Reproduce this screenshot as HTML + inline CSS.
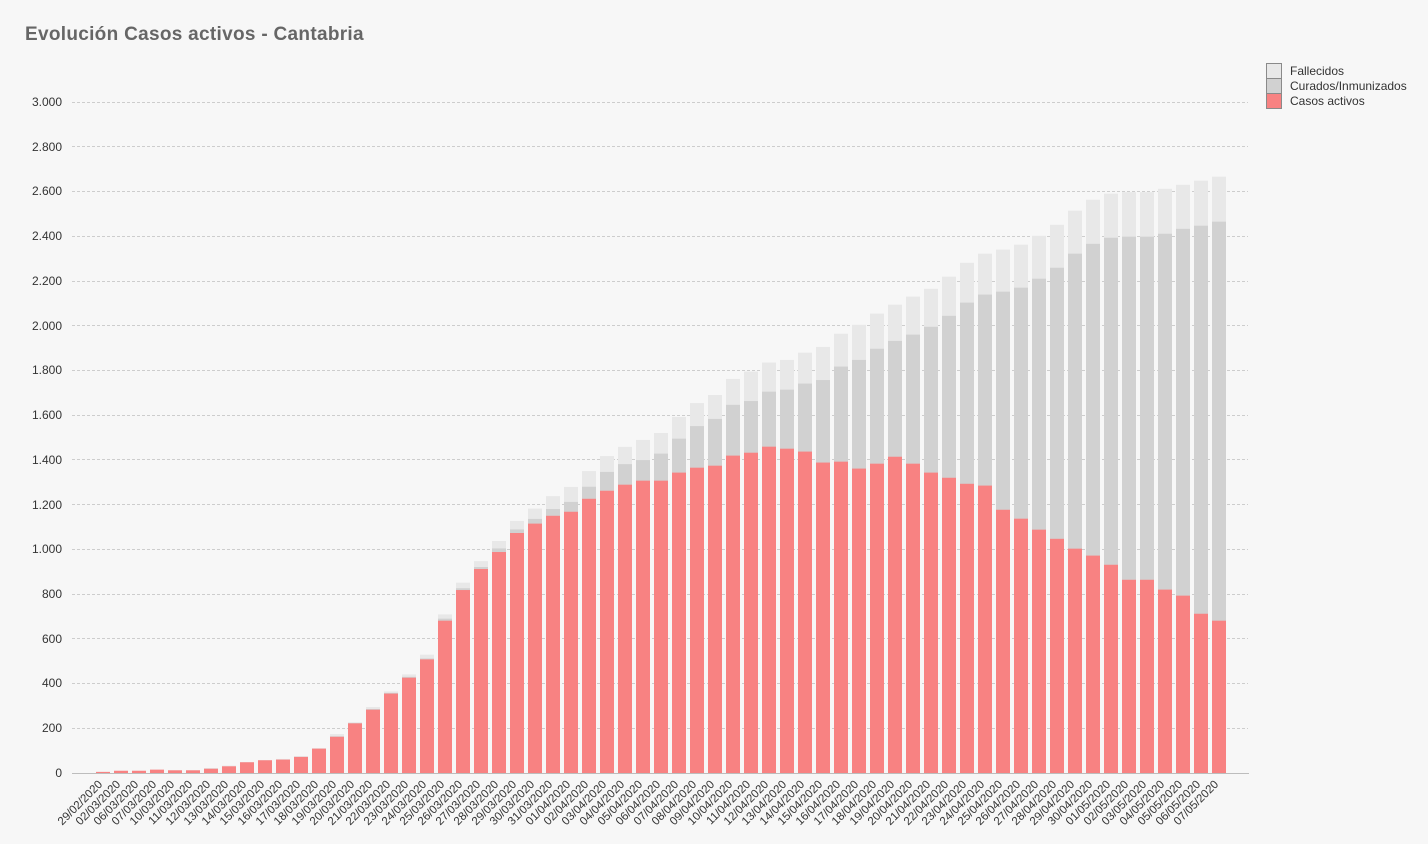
<!DOCTYPE html>
<html><head><meta charset="utf-8">
<style>
html,body{margin:0;padding:0;background:#f7f7f7;}
svg{display:block;}
.a{fill:#f88282;} .c{fill:#d1d1d1;} .f{fill:#e8e8e8;}
.yl{font-family:"Liberation Sans",sans-serif;font-size:12px;fill:#333;text-anchor:end;}
.xl{font-family:"Liberation Sans",sans-serif;font-size:11.5px;fill:#333;text-anchor:end;}
.lg{font-family:"Liberation Sans",sans-serif;font-size:12px;fill:#333;}
</style></head>
<body>
<svg width="1428" height="844" viewBox="0 0 1428 844" xmlns="http://www.w3.org/2000/svg">
<rect width="1428" height="844" fill="#f7f7f7"/>
<text x="25" y="40" font-family="Liberation Sans, sans-serif" font-weight="bold" font-size="19" letter-spacing="0.3" fill="#666">Evolución Casos activos - Cantabria</text>

<g stroke="#cdcdcd" stroke-width="1" stroke-dasharray="3 2">
<line x1="72" x2="1248" y1="728.5" y2="728.5"/>
<line x1="72" x2="1248" y1="683.5" y2="683.5"/>
<line x1="72" x2="1248" y1="638.5" y2="638.5"/>
<line x1="72" x2="1248" y1="594.5" y2="594.5"/>
<line x1="72" x2="1248" y1="549.5" y2="549.5"/>
<line x1="72" x2="1248" y1="504.5" y2="504.5"/>
<line x1="72" x2="1248" y1="459.5" y2="459.5"/>
<line x1="72" x2="1248" y1="415.5" y2="415.5"/>
<line x1="72" x2="1248" y1="370.5" y2="370.5"/>
<line x1="72" x2="1248" y1="325.5" y2="325.5"/>
<line x1="72" x2="1248" y1="281.5" y2="281.5"/>
<line x1="72" x2="1248" y1="236.5" y2="236.5"/>
<line x1="72" x2="1248" y1="191.5" y2="191.5"/>
<line x1="72" x2="1248" y1="146.5" y2="146.5"/>
<line x1="72" x2="1248" y1="102.5" y2="102.5"/>
</g>

<g class="yl">
<text x="62" y="777">0</text>
<text x="62" y="732">200</text>
<text x="62" y="687">400</text>
<text x="62" y="643">600</text>
<text x="62" y="598">800</text>
<text x="62" y="553">1.000</text>
<text x="62" y="509">1.200</text>
<text x="62" y="464">1.400</text>
<text x="62" y="419">1.600</text>
<text x="62" y="374">1.800</text>
<text x="62" y="330">2.000</text>
<text x="62" y="285">2.200</text>
<text x="62" y="240">2.400</text>
<text x="62" y="195">2.600</text>
<text x="62" y="151">2.800</text>
<text x="62" y="106">3.000</text>
</g>

<g transform="translate(0,773) scale(1,-0.2236667)">
<rect class="f" x="96" width="14" height="5"/><rect class="a" x="96" width="14" height="5"/>
<rect class="f" x="114" width="14" height="10"/><rect class="a" x="114" width="14" height="10"/>
<rect class="f" x="132" width="14" height="10"/><rect class="a" x="132" width="14" height="10"/>
<rect class="f" x="150" width="14" height="15"/><rect class="a" x="150" width="14" height="15"/>
<rect class="f" x="168" width="14" height="13"/><rect class="a" x="168" width="14" height="12"/>
<rect class="f" x="186" width="14" height="13"/><rect class="a" x="186" width="14" height="12"/>
<rect class="f" x="204" width="14" height="22"/><rect class="c" x="204" width="14" height="19"/><rect class="a" x="204" width="14" height="19"/>
<rect class="f" x="222" width="14" height="33"/><rect class="a" x="222" width="14" height="30"/>
<rect class="f" x="240" width="14" height="49"/><rect class="a" x="240" width="14" height="48"/>
<rect class="f" x="258" width="14" height="58"/><rect class="a" x="258" width="14" height="57"/>
<rect class="f" x="276" width="14" height="63"/><rect class="a" x="276" width="14" height="60"/>
<rect class="f" x="294" width="14" height="76"/><rect class="a" x="294" width="14" height="72"/>
<rect class="f" x="312" width="14" height="111"/><rect class="a" x="312" width="14" height="109"/>
<rect class="f" x="330" width="14" height="174"/><rect class="c" x="330" width="14" height="164"/><rect class="a" x="330" width="14" height="162"/>
<rect class="f" x="348" width="14" height="227"/><rect class="c" x="348" width="14" height="223"/><rect class="a" x="348" width="14" height="222"/>
<rect class="f" x="366" width="14" height="295"/><rect class="c" x="366" width="14" height="286"/><rect class="a" x="366" width="14" height="283"/>
<rect class="f" x="384" width="14" height="365"/><rect class="c" x="384" width="14" height="358"/><rect class="a" x="384" width="14" height="355"/>
<rect class="f" x="402" width="14" height="441"/><rect class="c" x="402" width="14" height="430"/><rect class="a" x="402" width="14" height="426"/>
<rect class="f" x="420" width="14" height="529"/><rect class="c" x="420" width="14" height="512"/><rect class="a" x="420" width="14" height="508"/>
<rect class="f" x="438" width="14" height="709"/><rect class="c" x="438" width="14" height="690"/><rect class="a" x="438" width="14" height="681"/>
<rect class="f" x="456" width="14" height="851"/><rect class="c" x="456" width="14" height="826"/><rect class="a" x="456" width="14" height="818"/>
<rect class="f" x="474" width="14" height="947"/><rect class="c" x="474" width="14" height="921"/><rect class="a" x="474" width="14" height="912"/>
<rect class="f" x="492" width="14" height="1037"/><rect class="c" x="492" width="14" height="1004"/><rect class="a" x="492" width="14" height="988"/>
<rect class="f" x="510" width="14" height="1127"/><rect class="c" x="510" width="14" height="1089"/><rect class="a" x="510" width="14" height="1073"/>
<rect class="f" x="528" width="14" height="1182"/><rect class="c" x="528" width="14" height="1136"/><rect class="a" x="528" width="14" height="1115"/>
<rect class="f" x="546" width="14" height="1238"/><rect class="c" x="546" width="14" height="1180"/><rect class="a" x="546" width="14" height="1150"/>
<rect class="f" x="564" width="14" height="1279"/><rect class="c" x="564" width="14" height="1212"/><rect class="a" x="564" width="14" height="1168"/>
<rect class="f" x="582" width="14" height="1350"/><rect class="c" x="582" width="14" height="1280"/><rect class="a" x="582" width="14" height="1226"/>
<rect class="f" x="600" width="14" height="1417"/><rect class="c" x="600" width="14" height="1346"/><rect class="a" x="600" width="14" height="1262"/>
<rect class="f" x="618" width="14" height="1458"/><rect class="c" x="618" width="14" height="1381"/><rect class="a" x="618" width="14" height="1289"/>
<rect class="f" x="636" width="14" height="1489"/><rect class="c" x="636" width="14" height="1399"/><rect class="a" x="636" width="14" height="1307"/>
<rect class="f" x="654" width="14" height="1520"/><rect class="c" x="654" width="14" height="1428"/><rect class="a" x="654" width="14" height="1307"/>
<rect class="f" x="672" width="14" height="1592"/><rect class="c" x="672" width="14" height="1495"/><rect class="a" x="672" width="14" height="1343"/>
<rect class="f" x="690" width="14" height="1654"/><rect class="c" x="690" width="14" height="1551"/><rect class="a" x="690" width="14" height="1365"/>
<rect class="f" x="708" width="14" height="1690"/><rect class="c" x="708" width="14" height="1583"/><rect class="a" x="708" width="14" height="1374"/>
<rect class="f" x="726" width="14" height="1762"/><rect class="c" x="726" width="14" height="1646"/><rect class="a" x="726" width="14" height="1419"/>
<rect class="f" x="744" width="14" height="1795"/><rect class="c" x="744" width="14" height="1663"/><rect class="a" x="744" width="14" height="1432"/>
<rect class="f" x="762" width="14" height="1835"/><rect class="c" x="762" width="14" height="1705"/><rect class="a" x="762" width="14" height="1459"/>
<rect class="f" x="780" width="14" height="1847"/><rect class="c" x="780" width="14" height="1714"/><rect class="a" x="780" width="14" height="1450"/>
<rect class="f" x="798" width="14" height="1879"/><rect class="c" x="798" width="14" height="1741"/><rect class="a" x="798" width="14" height="1437"/>
<rect class="f" x="816" width="14" height="1905"/><rect class="c" x="816" width="14" height="1757"/><rect class="a" x="816" width="14" height="1388"/>
<rect class="f" x="834" width="14" height="1964"/><rect class="c" x="834" width="14" height="1817"/><rect class="a" x="834" width="14" height="1392"/>
<rect class="f" x="852" width="14" height="2004"/><rect class="c" x="852" width="14" height="1847"/><rect class="a" x="852" width="14" height="1361"/>
<rect class="f" x="870" width="14" height="2054"/><rect class="c" x="870" width="14" height="1897"/><rect class="a" x="870" width="14" height="1383"/>
<rect class="f" x="888" width="14" height="2094"/><rect class="c" x="888" width="14" height="1932"/><rect class="a" x="888" width="14" height="1414"/>
<rect class="f" x="906" width="14" height="2130"/><rect class="c" x="906" width="14" height="1960"/><rect class="a" x="906" width="14" height="1383"/>
<rect class="f" x="924" width="14" height="2165"/><rect class="c" x="924" width="14" height="1995"/><rect class="a" x="924" width="14" height="1343"/>
<rect class="f" x="942" width="14" height="2219"/><rect class="c" x="942" width="14" height="2044"/><rect class="a" x="942" width="14" height="1320"/>
<rect class="f" x="960" width="14" height="2281"/><rect class="c" x="960" width="14" height="2103"/><rect class="a" x="960" width="14" height="1293"/>
<rect class="f" x="978" width="14" height="2322"/><rect class="c" x="978" width="14" height="2139"/><rect class="a" x="978" width="14" height="1285"/>
<rect class="f" x="996" width="14" height="2340"/><rect class="c" x="996" width="14" height="2152"/><rect class="a" x="996" width="14" height="1177"/>
<rect class="f" x="1014" width="14" height="2362"/><rect class="c" x="1014" width="14" height="2170"/><rect class="a" x="1014" width="14" height="1137"/>
<rect class="f" x="1032" width="14" height="2402"/><rect class="c" x="1032" width="14" height="2210"/><rect class="a" x="1032" width="14" height="1088"/>
<rect class="f" x="1050" width="14" height="2451"/><rect class="c" x="1050" width="14" height="2259"/><rect class="a" x="1050" width="14" height="1047"/>
<rect class="f" x="1068" width="14" height="2514"/><rect class="c" x="1068" width="14" height="2322"/><rect class="a" x="1068" width="14" height="1003"/>
<rect class="f" x="1086" width="14" height="2563"/><rect class="c" x="1086" width="14" height="2366"/><rect class="a" x="1086" width="14" height="972"/>
<rect class="f" x="1104" width="14" height="2590"/><rect class="c" x="1104" width="14" height="2393"/><rect class="a" x="1104" width="14" height="931"/>
<rect class="f" x="1122" width="14" height="2597"/><rect class="c" x="1122" width="14" height="2398"/><rect class="a" x="1122" width="14" height="864"/>
<rect class="f" x="1140" width="14" height="2597"/><rect class="c" x="1140" width="14" height="2398"/><rect class="a" x="1140" width="14" height="864"/>
<rect class="f" x="1158" width="14" height="2612"/><rect class="c" x="1158" width="14" height="2411"/><rect class="a" x="1158" width="14" height="820"/>
<rect class="f" x="1176" width="14" height="2630"/><rect class="c" x="1176" width="14" height="2433"/><rect class="a" x="1176" width="14" height="793"/>
<rect class="f" x="1194" width="14" height="2648"/><rect class="c" x="1194" width="14" height="2447"/><rect class="a" x="1194" width="14" height="712"/>
<rect class="f" x="1212" width="14" height="2666"/><rect class="c" x="1212" width="14" height="2465"/><rect class="a" x="1212" width="14" height="681"/>
</g>

<line x1="72" x2="1249" y1="773.5" y2="773.5" stroke="#bdbdbd" stroke-width="1"/>

<g class="xl">
<text transform="translate(103,785) rotate(-45)">29/02/2020</text>
<text transform="translate(121,785) rotate(-45)">02/03/2020</text>
<text transform="translate(139,785) rotate(-45)">06/03/2020</text>
<text transform="translate(157,785) rotate(-45)">07/03/2020</text>
<text transform="translate(175,785) rotate(-45)">10/03/2020</text>
<text transform="translate(193,785) rotate(-45)">11/03/2020</text>
<text transform="translate(211,785) rotate(-45)">12/03/2020</text>
<text transform="translate(229,785) rotate(-45)">13/03/2020</text>
<text transform="translate(247,785) rotate(-45)">14/03/2020</text>
<text transform="translate(265,785) rotate(-45)">15/03/2020</text>
<text transform="translate(283,785) rotate(-45)">16/03/2020</text>
<text transform="translate(301,785) rotate(-45)">17/03/2020</text>
<text transform="translate(319,785) rotate(-45)">18/03/2020</text>
<text transform="translate(337,785) rotate(-45)">19/03/2020</text>
<text transform="translate(355,785) rotate(-45)">20/03/2020</text>
<text transform="translate(373,785) rotate(-45)">21/03/2020</text>
<text transform="translate(391,785) rotate(-45)">22/03/2020</text>
<text transform="translate(409,785) rotate(-45)">23/03/2020</text>
<text transform="translate(427,785) rotate(-45)">24/03/2020</text>
<text transform="translate(445,785) rotate(-45)">25/03/2020</text>
<text transform="translate(463,785) rotate(-45)">26/03/2020</text>
<text transform="translate(481,785) rotate(-45)">27/03/2020</text>
<text transform="translate(499,785) rotate(-45)">28/03/2020</text>
<text transform="translate(517,785) rotate(-45)">29/03/2020</text>
<text transform="translate(535,785) rotate(-45)">30/03/2020</text>
<text transform="translate(553,785) rotate(-45)">31/03/2020</text>
<text transform="translate(571,785) rotate(-45)">01/04/2020</text>
<text transform="translate(589,785) rotate(-45)">02/04/2020</text>
<text transform="translate(607,785) rotate(-45)">03/04/2020</text>
<text transform="translate(625,785) rotate(-45)">04/04/2020</text>
<text transform="translate(643,785) rotate(-45)">05/04/2020</text>
<text transform="translate(661,785) rotate(-45)">06/04/2020</text>
<text transform="translate(679,785) rotate(-45)">07/04/2020</text>
<text transform="translate(697,785) rotate(-45)">08/04/2020</text>
<text transform="translate(715,785) rotate(-45)">09/04/2020</text>
<text transform="translate(733,785) rotate(-45)">10/04/2020</text>
<text transform="translate(751,785) rotate(-45)">11/04/2020</text>
<text transform="translate(769,785) rotate(-45)">12/04/2020</text>
<text transform="translate(787,785) rotate(-45)">13/04/2020</text>
<text transform="translate(805,785) rotate(-45)">14/04/2020</text>
<text transform="translate(823,785) rotate(-45)">15/04/2020</text>
<text transform="translate(841,785) rotate(-45)">16/04/2020</text>
<text transform="translate(859,785) rotate(-45)">17/04/2020</text>
<text transform="translate(877,785) rotate(-45)">18/04/2020</text>
<text transform="translate(895,785) rotate(-45)">19/04/2020</text>
<text transform="translate(913,785) rotate(-45)">20/04/2020</text>
<text transform="translate(931,785) rotate(-45)">21/04/2020</text>
<text transform="translate(949,785) rotate(-45)">22/04/2020</text>
<text transform="translate(967,785) rotate(-45)">23/04/2020</text>
<text transform="translate(985,785) rotate(-45)">24/04/2020</text>
<text transform="translate(1003,785) rotate(-45)">25/04/2020</text>
<text transform="translate(1021,785) rotate(-45)">26/04/2020</text>
<text transform="translate(1039,785) rotate(-45)">27/04/2020</text>
<text transform="translate(1057,785) rotate(-45)">28/04/2020</text>
<text transform="translate(1075,785) rotate(-45)">29/04/2020</text>
<text transform="translate(1093,785) rotate(-45)">30/04/2020</text>
<text transform="translate(1111,785) rotate(-45)">01/05/2020</text>
<text transform="translate(1129,785) rotate(-45)">02/05/2020</text>
<text transform="translate(1147,785) rotate(-45)">03/05/2020</text>
<text transform="translate(1165,785) rotate(-45)">04/05/2020</text>
<text transform="translate(1183,785) rotate(-45)">05/05/2020</text>
<text transform="translate(1201,785) rotate(-45)">06/05/2020</text>
<text transform="translate(1219,785) rotate(-45)">07/05/2020</text>
</g>

<g stroke="#8a8a8a" stroke-width="1">
<rect x="1266.5" y="63.5" width="15" height="15" fill="#e8e8e8"/>
<rect x="1266.5" y="78.5" width="15" height="15" fill="#d1d1d1"/>
<rect x="1266.5" y="93.5" width="15" height="15" fill="#f88282"/>
</g>
<text class="lg" x="1290" y="75">Fallecidos</text>
<text class="lg" x="1290" y="90">Curados/Inmunizados</text>
<text class="lg" x="1290" y="105">Casos activos</text>
</svg>
</body></html>
